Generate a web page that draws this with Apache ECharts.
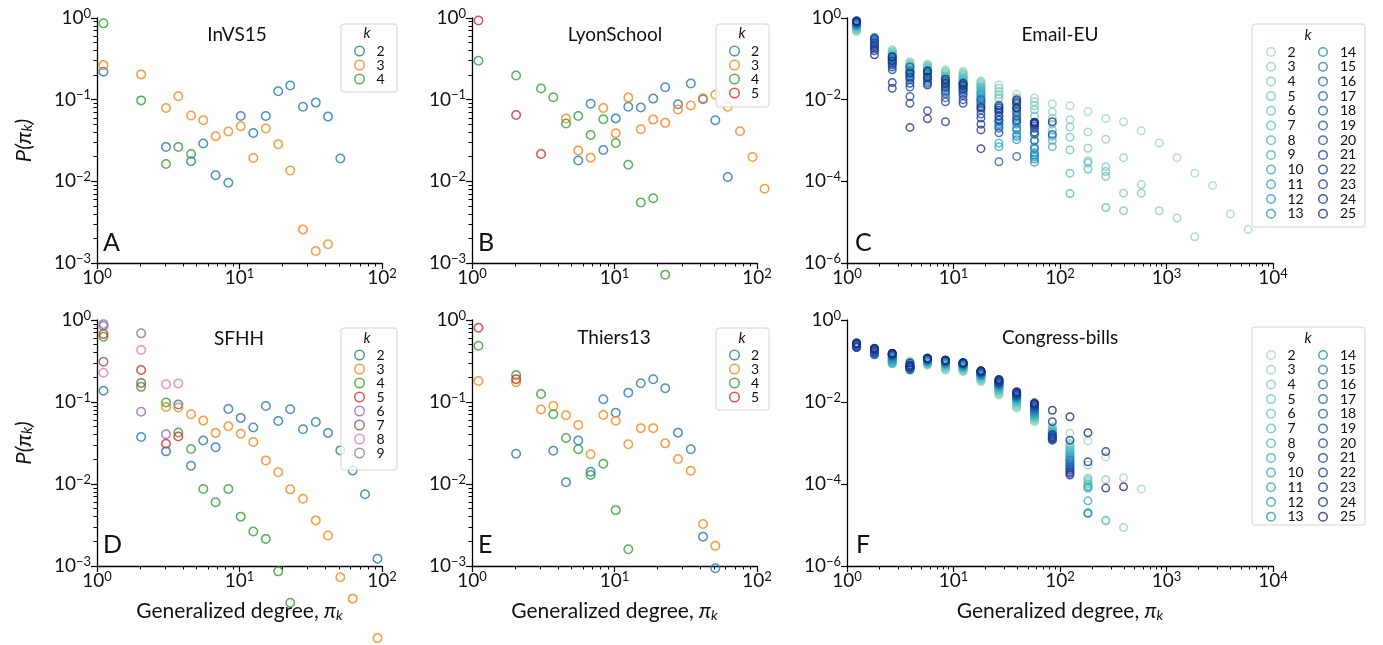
<!DOCTYPE html>
<html><head><meta charset="utf-8">
<script src="https://cdn.jsdelivr.net/npm/echarts@6/dist/echarts.min.js"></script>
<style>html,body{margin:0;padding:0;background:#fff}#c{width:1383px;height:645px}</style>
</head><body><div id="c"></div>
<script>
const _ = null;
// bin centres (generalized degree)
const smallBins = [1.11, 2.04, 3.05, 3.72, 4.57, 5.57, 6.8, 8.35, 10.2, 12.5, 15.3, 18.7, 22.7, 27.9, 34.3, 41.8, 51, 62.3, 76, 93, 113];
const largeBins = [1.23, 1.81, 2.66, 3.9, 5.7, 8.4, 12.3, 18.1, 26.7, 39.2, 57.6, 84.7, 124, 183, 269, 395, 580, 853, 1254, 1843, 2709, 3982, 5853];

// A: InVS15
const invsK2 = [0.22,_,0.0264,_,0.0176,0.029,0.0119,0.0096,0.063,0.039,0.063,0.127,0.149,0.082,0.092,0.062,0.019];
const invsK3 = [0.265,0.204,0.079,0.11,0.064,0.056,0.0357,0.0407,0.0473,0.0193,0.0443,0.0284,0.0136,0.00258,0.0014,0.0017];
const invsK4 = [0.86,0.098,0.0163,0.0264,0.0216];
// B: LyonSchool
const lyonK2 = [_,_,_,_,_,0.018,0.089,0.0242,0.059,0.082,0.080,0.103,0.142,0.088,0.158,0.101,0.056,0.0113];
const lyonK3 = [_,_,_,_,0.0588,0.0238,0.0195,0.079,0.0388,0.106,0.0435,0.057,0.052,0.076,0.085,0.104,0.115,0.082,0.041,0.0199,0.0081];
const lyonK4 = [0.30,0.198,0.137,0.107,0.051,0.063,0.037,0.0577,0.0295,0.016,0.0055,0.0062,0.00072];
const lyonK5 = [0.93,0.065,0.0216];
// D: SFHH
const sfhhK2 = [0.137,0.0374,0.025,0.093,0.0167,0.034,0.028,0.082,0.064,0.0488,0.0896,0.0587,0.0817,0.0465,0.057,0.042,0.0257,0.0146,0.0075,0.00123];
const sfhhK3 = [_,_,0.087,0.0857,0.071,0.0593,0.042,0.0506,0.041,0.0325,0.0194,0.0139,0.0086,0.0066,0.0036,0.00235,0.00073,0.0004,_,0.000132];
const sfhhK4 = [0.625,0.153,0.0986,0.0424,0.0267,0.0087,0.006,0.0087,0.004,0.00264,0.00214,0.00086,0.000357];
const sfhhK5 = [0.675,0.245,0.031,0.038];
const sfhhK6 = [0.89,0.076,0.0404];
const sfhhK7 = [0.31,0.171];
const sfhhK8 = [0.227,0.43,0.165,0.168];
const sfhhK9 = [0.845,0.687];
// E: Thiers13
const thiersK2 = [_,0.0234,_,0.0255,0.0105,0.034,0.0141,0.108,0.074,0.13,0.169,0.189,0.147,0.0423,0.0265,0.00228,0.00094];
const thiersK3 = [0.18,0.174,0.081,0.0894,0.0688,0.0525,0.023,0.0694,0.059,0.0305,0.048,0.048,0.0313,0.0202,0.0145,0.00325,0.00177];
const thiersK4 = [0.486,0.213,0.125,0.0708,0.0364,0.0265,0.0129,0.0177,0.0048,0.0016];
const thiersK5 = [0.805,0.19];

// C: Email-EU, log10 P per k = 2..25
const emailLogP = [
 [-0.33,-0.5,-0.78,-1.07,-1.13,-1.27,-1.31,-1.54,-1.64,-1.87,-1.96,-2.1,-2.15,-2.29,-2.46,-2.54,-2.76,-3.06,-3.42,-3.8,-4.1,-4.8,-5.18],
 [-0.31,-0.52,-0.8,-1.1,-1.15,-1.3,-1.34,-1.57,-1.72,-1.95,-2.05,-2.3,-2.49,-2.79,-2.97,-3.42,-4.08,-4.72,-4.9,-5.36],
 [-0.29,-0.54,-0.83,-1.12,-1.17,-1.33,-1.37,-1.6,-1.8,-2.0,-2.15,-2.45,-2.67,-3.19,-3.64,-4.29,-4.29],
 [-0.27,-0.55,-0.85,-1.15,-1.2,-1.36,-1.4,-1.63,-1.88,-2.08,-2.25,-2.6,-2.92,-3.5,-3.76,-4.72],
 [-0.25,-0.57,-0.88,-1.18,-1.22,-1.4,-1.44,-1.67,-1.96,-2.15,-2.4,-2.75,-3.23,-3.55,-3.88],
 [-0.23,-0.58,-0.9,-1.2,-1.24,-1.43,-1.47,-1.7,-2.13,-2.25,-2.6,-2.9,-3.8,-3.7,-4.64],
 [-0.21,-0.6,-0.93,-1.23,-1.27,-1.46,-1.5,-1.74,-2.2,-2.35,-2.8,-3.0,-4.3],
 [-0.2,-0.61,-0.95,-1.26,-1.3,-1.5,-1.54,-1.78,-2.3,-2.45,-3.0,-3.15],
 [-0.19,-0.62,-0.98,-1.3,-1.32,-1.53,-1.57,-1.82,-3.06,-2.6,-3.15],
 [-0.18,-0.63,-1.0,-1.33,-1.35,-1.57,-1.6,-1.86,-3.15,-2.75,-3.3],
 [-0.17,-0.64,-1.03,-1.36,-1.38,-1.6,-1.64,-1.9,-2.4,-2.85,-3.4],
 [-0.16,-0.65,-1.05,-1.4,-1.4,-1.65,-1.68,-1.95,-2.5,-2.98,-3.53],
 [-0.15,-0.66,-1.08,-1.44,-1.43,-1.7,-1.72,-2.0,-2.55,-2.9,-3.45],
 [-0.14,-0.67,-1.1,-1.48,-1.46,-1.75,-1.76,-2.05,-2.6,-2.7,-3.35],
 [-0.13,-0.62,-1.0,-1.52,-1.5,-1.62,-1.7,-2.1,-2.65,-2.55,-3.2],
 [-0.12,-0.55,-0.95,-1.3,-1.35,-1.55,-1.62,-2.0,-2.7,-3.39,-3.0],
 [-0.11,-0.5,-1.12,-1.2,-1.3,-1.8,-1.8,-2.15,-3.52,-2.4,-2.85],
 [-0.1,-0.48,-1.15,-1.69,-1.55,-1.85,-1.85,-2.25,-2.81,-2.3,-2.8],
 [-0.1,-0.52,-1.2,-1.92,-1.6,-1.95,-1.9,-2.35,-2.3,-2.2,-2.7,-2.85],
 [-0.09,-0.6,-1.27,-1.45,-2.27,-2.05,-2.0,-2.45,-2.2,-2.1,-2.65],
 [-0.09,-0.7,-1.58,-2.09,-1.64,-2.54,-2.09,-2.6,-2.4,-2.05,-2.6],
 [-0.08,-0.75,-1.72,-1.6,-2.47,-1.7,-1.75,-2.74,-2.5,-2.5,-2.58],
 [-0.08,-0.8,-1.05,-2.68,-1.45,-1.6,-1.65,-3.2,-2.15,-2.0,-2.56,-2.54],
 [-0.07,-0.9,-0.95,-1.35,-1.3,-1.5,-1.6,-2.2,-2.25,-2.2,-2.55]
];
// F: Congress-bills, log10 P per k = 2..25
const congressLogP = [
 [-0.55,-0.7,-0.95,-1.0,-1.1,-1.22,-1.26,-1.5,-1.83,-2.15,-2.48,-2.6,-2.76,-2.95,-3.34,-3.85,-4.12],
 [-0.56,-0.71,-0.97,-1.02,-1.09,-1.2,-1.24,-1.48,-1.8,-2.12,-2.45,-2.62,-3.01,-3.54,-3.89,-5.06],
 [-0.57,-0.72,-0.99,-1.04,-1.08,-1.18,-1.22,-1.46,-1.77,-2.09,-2.42,-2.64,-3.05,-3.86,-4.88],
 [-0.58,-0.73,-1.01,-1.06,-1.07,-1.16,-1.2,-1.44,-1.74,-2.06,-2.4,-2.66,-3.09,-3.9,-4.9],
 [-0.59,-0.74,-1.03,-1.08,-1.06,-1.14,-1.18,-1.42,-1.72,-2.03,-2.38,-2.68,-3.13,-3.95],
 [-0.6,-0.75,-1.04,-1.1,-1.05,-1.12,-1.17,-1.4,-1.7,-2.0,-2.36,-2.7,-3.17,-4.0],
 [-0.6,-0.76,-1.05,-1.12,-1.04,-1.1,-1.16,-1.38,-1.68,-1.98,-2.34,-2.72,-3.21,-4.05],
 [-0.61,-0.77,-1.06,-1.14,-1.03,-1.09,-1.15,-1.37,-1.66,-1.96,-2.32,-2.74,-3.25,-4.08],
 [-0.62,-0.78,-1.0,-1.16,-1.02,-1.08,-1.14,-1.36,-1.64,-1.94,-2.3,-2.76,-3.29,-4.1],
 [-0.62,-0.79,-0.98,-1.18,-1.01,-1.07,-1.13,-1.35,-1.62,-1.92,-2.28,-2.78,-3.33,-4.41],
 [-0.63,-0.8,-0.96,-1.2,-1.0,-1.06,-1.12,-1.34,-1.6,-1.9,-2.26,-2.8,-3.37,-4.7],
 [-0.63,-0.81,-0.94,-1.22,-0.99,-1.05,-1.11,-1.33,-1.59,-1.89,-2.24,-2.82,-3.41,-4.72],
 [-0.64,-0.82,-0.92,-1.21,-0.98,-1.04,-1.1,-1.32,-1.58,-1.88,-2.22,-2.84,-3.42],
 [-0.64,-0.83,-0.9,-1.2,-0.97,-1.03,-1.09,-1.31,-1.57,-1.87,-2.2,-2.86,-3.46],
 [-0.65,-0.84,-0.88,-1.19,-0.97,-1.02,-1.08,-1.3,-1.56,-1.86,-2.18,-2.88,-3.5],
 [-0.65,-0.85,-0.87,-1.18,-0.96,-1.01,-1.07,-1.29,-1.55,-1.85,-2.16,-2.9,-3.54],
 [-0.66,-0.8,-0.86,-1.17,-0.96,-1.0,-1.07,-1.28,-1.54,-1.84,-2.14,-2.92,-3.58],
 [-0.66,-0.78,-0.85,-1.16,-0.95,-1.0,-1.06,-1.27,-1.53,-1.83,-2.12,-2.93,-3.62],
 [-0.66,-0.76,-0.84,-1.15,-0.95,-0.99,-1.06,-1.27,-1.52,-1.82,-2.1,-2.9,-3.66],
 [-0.67,-0.74,-0.83,-1.14,-0.94,-0.99,-1.05,-1.26,-1.5,-1.8,-2.08,-2.88,-3.7],
 [-0.6,-0.72,-0.83,-1.13,-0.94,-0.98,-1.05,-1.25,-1.49,-1.79,-2.06,-2.85,-3.74],
 [-0.58,-0.71,-0.82,-1.12,-0.93,-0.98,-1.04,-1.25,-1.48,-1.78,-2.05,-2.8,-3.78],
 [-0.57,-0.7,-0.82,-1.1,-0.93,-0.98,-1.04,-1.24,-1.46,-1.76,-2.04,-2.48,-2.93,-3.46,-4.1],
 [-0.56,-0.69,-0.81,-1.05,-0.93,-0.98,-1.04,-1.24,-1.45,-1.75,-2.02,-2.2,-2.36,-2.75,-3.21,-4.07]
];
const kSmall = {A:[2,3,4], B:[2,3,4,5], D:[2,3,4,5,6,7,8,9], E:[2,3,4,5]};
const kLarge = [2,3,4,5,6,7,8,9,10,11,12,13,14,15,16,17,18,19,20,21,22,23,24,25];

const FONT = 'Lato, "DejaVu Sans", sans-serif';
const tab10 = ['#1f77b4','#ff7f0e','#2ca02c','#d62728','#9467bd','#8c564b','#e377c2','#7f7f7f'];
const YGB = [[255,255,217],[237,248,177],[199,233,180],[127,205,187],[65,182,196],[29,145,192],[34,94,168],[37,52,148],[8,29,88]];
function ygb(t){const p=t*8;const i=Math.min(7,Math.floor(p));const f=p-i;const a=YGB[i],b=YGB[i+1];return 'rgb('+a.map((v,j)=>Math.round(v+(b[j]-v)*f)).join(',')+')';}
function largeColor(k){return ygb(0.32+(k-2)/23*0.61);}

function supLabel(v){const e=Math.round(Math.log10(v));return '{b|10}{s|'+(e<0?'\u2212'+(-e):String(e))+'}';}
const richLab = {b:{fontSize:19,fontFamily:FONT,color:'#111',lineHeight:22},s:{fontSize:13,fontFamily:FONT,color:'#111',verticalAlign:'top',lineHeight:12}};
function minorVals(lo,hi){const out=[];for(let e=lo;e<hi;e++){for(let m=2;m<=9;m++)out.push(m*Math.pow(10,e));}return out;}

const panels = [
 {id:'A',title:'InVS15',grid:[97,18,285,245],large:false,series:[invsK2,invsK3,invsK4],ks:kSmall.A,box:[341,24,56,68],kPos:[367,33],leg:[354,44],iw:24,titlePos:[237,35],letter:[103,243]},
 {id:'B',title:'LyonSchool',grid:[472,18,285,245],large:false,series:[lyonK2,lyonK3,lyonK4,lyonK5],ks:kSmall.B,box:[716,24,53,83],kPos:[742,33],leg:[729,44],iw:23,titlePos:[615,35],letter:[478,243]},
 {id:'C',title:'Email-EU',grid:[847,18,426,245],large:true,series:emailLogP,ks:kLarge,box:[1252,24,113,203],kPos:[1308,35],leg:[1266,45],leg2:[1318,45],iw:23,titlePos:[1060,35],letter:[855,243]},
 {id:'D',title:'SFHH',grid:[97,320,285,246],large:false,series:[sfhhK2,sfhhK3,sfhhK4,sfhhK5,sfhhK6,sfhhK7,sfhhK8,sfhhK9],ks:kSmall.D,box:[341,328,56,142],kPos:[367,338],leg:[354,348],iw:24,titlePos:[239,339],letter:[103,545]},
 {id:'E',title:'Thiers13',grid:[472,320,285,246],large:false,series:[thiersK2,thiersK3,thiersK4,thiersK5],ks:kSmall.E,box:[716,328,53,82],kPos:[742,338],leg:[729,348],iw:23,titlePos:[614,338],letter:[478,545]},
 {id:'F',title:'Congress-bills',grid:[847,320,426,246],large:true,series:congressLogP,ks:kLarge,box:[1252,327,113,198],kPos:[1308,338],leg:[1266,348],leg2:[1318,348],iw:23,titlePos:[1060,338],letter:[856,545]}
];

const option = {animation:false,backgroundColor:'#fff',grid:[],xAxis:[],yAxis:[],series:[],legend:[],graphic:[]};

panels.forEach((p,i)=>{
  const [gl,gt,gw,gh] = p.grid;
  option.grid.push({left:gl,top:gt,width:gw,height:gh,containLabel:false});
  const xMax = p.large?1e4:100, yMin = p.large?1e-6:1e-3;
  const xMajor = p.large?[1,10,100,1000,10000]:[1,10,100];
  const yMajor = p.large?[1e-6,1e-4,1e-2,1]:[1e-3,1e-2,1e-1,1];
  const bottomRow = i>=3;
  const xMain = {type:'log',logBase:10,gridIndex:i,min:1,max:xMax,position:'bottom',
    axisLine:{show:true,lineStyle:{color:'#000',width:1.3}},
    axisTick:{show:true,length:6,customValues:xMajor,lineStyle:{color:'#000',width:1.2}},
    axisLabel:{show:true,customValues:xMajor,formatter:supLabel,rich:richLab,margin:4},
    splitLine:{show:false},minorTick:{show:false}};
  if(bottomRow){
    xMain.name='{t|Generalized degree, }{i|\u03c0}{sub|k}';
    xMain.nameLocation='middle';xMain.nameGap=34;
    xMain.nameTextStyle={rich:{t:{fontSize:21,fontFamily:FONT,color:'#111'},i:{fontSize:21,fontFamily:FONT,fontStyle:'italic',color:'#111'},sub:{fontSize:14,fontFamily:FONT,fontStyle:'italic',color:'#111',verticalAlign:'bottom',padding:[8,0,0,0]}}};
  }
  option.xAxis.push(xMain);
  option.xAxis.push({type:'log',logBase:10,gridIndex:i,min:1,max:xMax,position:'bottom',
    axisLine:{show:false},axisLabel:{show:false},splitLine:{show:false},
    axisTick:{show:true,length:3.5,customValues:minorVals(0,Math.round(Math.log10(xMax))),lineStyle:{color:'#000',width:1}}});
  const yMain = {type:'log',logBase:10,gridIndex:i,min:yMin,max:1,position:'left',
    axisLine:{show:true,lineStyle:{color:'#000',width:1.3}},
    axisTick:{show:true,length:6,customValues:yMajor,lineStyle:{color:'#000',width:1.2}},
    axisLabel:{show:true,customValues:yMajor,formatter:supLabel,rich:richLab,margin:6},
    splitLine:{show:false}};
  if(i===0||i===3){
    yMain.name='{i|P(\u03c0}{sub|k}{i|)}';
    yMain.nameLocation='middle';yMain.nameRotate=90;yMain.nameGap=62;
    yMain.nameTextStyle={rich:{i:{fontSize:22,fontFamily:FONT,fontStyle:'italic',color:'#111'},sub:{fontSize:15,fontFamily:FONT,fontStyle:'italic',color:'#111',verticalAlign:'bottom',padding:[8,0,0,0]}}};
  }
  option.yAxis.push(yMain);
  option.yAxis.push({type:'log',logBase:10,gridIndex:i,min:yMin,max:1,position:'left',
    axisLine:{show:false},axisLabel:{show:false},splitLine:{show:false},
    axisTick:{show:!p.large,length:3.5,customValues:p.large?[]:minorVals(-3,0),lineStyle:{color:'#000',width:1}}});

  const bins = p.large?largeBins:smallBins;
  const legItems = [];
  p.series.forEach((arr,j)=>{
    const k = p.ks[j];
    const col = p.large?largeColor(k):tab10[j];
    const data = [];
    arr.forEach((v,b)=>{ if(v!==null && v!==undefined) data.push([bins[b], p.large?Math.pow(10,v):v]); });
    option.series.push({type:'scatter',name:p.id+k,xAxisIndex:2*i,yAxisIndex:2*i,data:data,
      symbol:'circle',symbolSize:p.large?7.5:8.5,clip:false,silent:true,
      itemStyle:{color:'rgba(0,0,0,0)',borderColor:col,borderWidth:1.5}});
    legItems.push({name:p.id+k,icon:'circle',itemStyle:{color:'rgba(0,0,0,0)',borderColor:col,borderWidth:1.5}});
  });
  const legBase = {orient:'vertical',itemHeight:p.large?8.5:9.5,itemWidth:p.iw,itemGap:p.large?0.7:0,padding:0,selectedMode:false,z:12,
    formatter:n=>n.slice(1),textStyle:{fontSize:14,fontFamily:FONT,color:'#111',lineHeight:10}};
  if(p.large){
    option.legend.push(Object.assign({},legBase,{left:p.leg[0],top:p.leg[1],data:legItems.slice(0,12)}));
    option.legend.push(Object.assign({},legBase,{left:p.leg2[0],top:p.leg2[1],itemWidth:24,data:legItems.slice(12)}));
  } else {
    option.legend.push(Object.assign({},legBase,{left:p.leg[0],top:p.leg[1],data:legItems}));
  }
  const [bx,by,bw,bh] = p.box;
  option.graphic.push({type:'rect',z:8,shape:{x:bx,y:by,width:bw,height:bh,r:3},style:{fill:'rgba(255,255,255,0.8)',stroke:'#d4d4d4',lineWidth:1}});
  option.graphic.push({type:'text',z:12,x:p.kPos[0],y:p.kPos[1],style:{text:'k',font:'italic 15px '+FONT,fill:'#111',align:'center',verticalAlign:'middle',textAlign:'center',textVerticalAlign:'middle'}});
  option.graphic.push({type:'text',z:12,x:p.titlePos[0],y:p.titlePos[1],style:{text:p.title,font:'19px '+FONT,fill:'#111',align:'center',verticalAlign:'middle',textAlign:'center',textVerticalAlign:'middle'}});
  option.graphic.push({type:'text',z:12,x:p.letter[0],y:p.letter[1],style:{text:p.id,font:'25px '+FONT,fill:'#111',align:'left',verticalAlign:'middle',textAlign:'left',textVerticalAlign:'middle'}});
});

const chart = echarts.init(document.getElementById('c'),null,{renderer:'canvas',width:1383,height:645});
chart.setOption(option);
</script></body></html>
